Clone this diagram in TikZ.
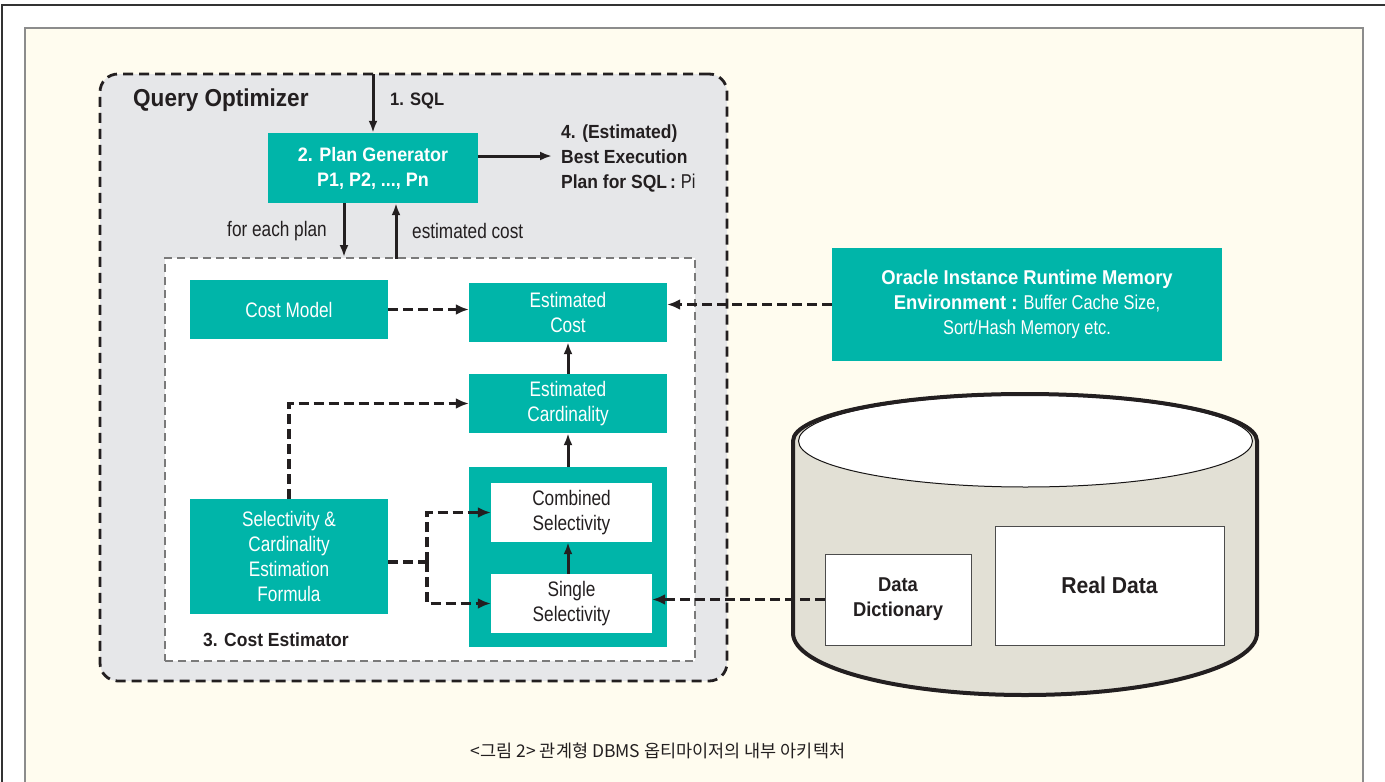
\documentclass[tikz,border=0pt]{standalone}
\usepackage{fontspec}
\usetikzlibrary{arrows.meta}
\setmainfont{Liberation Sans}
\newfontfamily\rslt{Liberation Sans}[FakeStretch=0.82]
\newfontfamily\rsbd{Liberation Sans}[FakeStretch=0.92]
\newfontfamily\rskr{Noto Sans CJK KR}
\definecolor{teal}{HTML}{00B5A9}
\definecolor{qgrey}{HTML}{E6E7E9}
\definecolor{cream}{HTML}{FFFCEF}
\definecolor{cyl}{HTML}{E2E0D5}
\definecolor{ink}{HTML}{231F20}
\definecolor{ceborder}{HTML}{7A7A7A}
\newcommand\rsLight[1][21]{\rslt\mdseries\fontsize{#1}{25}\selectfont}
\newcommand\rsBold[1][19]{\rsbd\bfseries\fontsize{#1}{25}\selectfont}
\tikzset{
  tealbox/.style={fill=teal, draw=none, text=white, align=center, inner sep=0pt, font=\rsLight},
  whitebox/.style={fill=white, draw=none, text=ink, align=center, inner sep=0pt, font=\rsLight},
  dbbox/.style={fill=white, draw=black!70, line width=1pt, text=ink, align=center, inner sep=0pt},
  arr/.style={draw=ink, line width=3pt, -{Latex[length=12pt,width=9pt]}},
  darr/.style={draw=ink, line width=3.5pt, dash pattern=on 10pt off 5pt, -{Latex[length=13pt,width=11pt]}},
  dline/.style={draw=ink, line width=3.5pt, dash pattern=on 10pt off 5pt},
  lbl/.style={text=ink, inner sep=0pt},
}
\begin{document}
\begin{tikzpicture}[x=1pt, y=-1pt]
\useasboundingbox (0,0) rectangle (1385,782);
% page frame
\fill[white] (0,0) rectangle (1385,782);
\fill[cream] (25,28) rectangle (1363,790);
\draw[black!45, line width=1.5pt] (25,790) -- (25,28) -- (1363,28) -- (1363,790);
\draw[black!80, line width=1.8pt] (2,782) -- (2,5) -- (1385,5);

% Query optimizer
\node[draw=ink, fill=qgrey, line width=2.8pt, dash pattern=on 10pt off 6pt, rounded corners=18pt,
      minimum width=627pt, minimum height=607pt, inner sep=0pt] (qo) at (413.5,377.5) {};
\node[lbl, anchor=west, font={\rsBold[24.5]}] (qot) at (133,100) {Query Optimizer};

% plan generator
\node[tealbox, minimum width=210pt, minimum height=70pt, font={\rsBold[19.5]}] (pg) at (373,168)
  {2. Plan Generator\\P1, P2, ..., Pn};
\coordinate (sqlin) at (373,74);
\draw[arr] (sqlin) -- (pg.north);
\node[lbl, anchor=west, font={\rsBold[18]}] (sql) at (390,101) {1. SQL};

\node[lbl, anchor=west, align=left, font={\rsBold[19]}] (best) at (561,158)
  {4. (Estimated)\\Best Execution\\Plan for SQL\,: {\rsLight[20]Pi}};
\draw[arr, shorten >=9pt] ([yshift=12pt]pg.east) -- ([yshift=2pt]best.west);

% cost estimator
\node[draw=ceborder, fill=white, line width=1.2pt, dash pattern=on 8pt off 5pt,
      minimum width=530pt, minimum height=403pt, inner sep=0pt] (ce) at (430,459.5) {};
\node[lbl, anchor=west, font={\rsBold[19]}] (cet) at (203,640) {3. Cost Estimator};

\coordinate (fe) at (344,257);
\coordinate (ec) at (396,259);
\draw[arr] (pg.south -| fe) -- (fe);
\draw[arr] (ec) -- (ec |- pg.south);
\node[lbl, anchor=east, font=\rsLight] (fet) at (327,231) {for each plan};
\node[lbl, anchor=west, font=\rsLight] (ect) at (412,231) {estimated cost};

\node[tealbox, minimum width=198pt, minimum height=59pt] (cm) at (289,309.5) {Cost Model};
\node[tealbox, minimum width=198pt, minimum height=59pt] (ecost) at (568,312.5) {Estimated\\Cost};
\node[tealbox, minimum width=198pt, minimum height=59pt] (ecard) at (568,403.5) {Estimated\\Cardinality};
\node[tealbox, minimum width=198pt, minimum height=115pt] (sf) at (289,556.5)
  {Selectivity \&\\Cardinality\\Estimation\\Formula};
\node[tealbox, minimum width=198pt, minimum height=180pt] (selbox) at (568,557) {};
\node[whitebox, minimum width=161pt, minimum height=59pt] (comb) at (571.5,512.5) {Combined\\Selectivity};
\node[whitebox, minimum width=161pt, minimum height=59pt] (sing) at (571.5,603.5) {Single\\Selectivity};

\draw[arr] (ecard.north) -- (ecost.south);
\draw[arr] (selbox.north) -- (ecard.south);
\draw[arr] (sing.north -| selbox.north) -- (comb.south -| selbox.north);

\draw[darr] (cm.east) -- (cm.east -| ecost.west);
\draw[darr] (sf.north) |- (ecard.west);
\coordinate (jn) at (427,562);
\draw[dline] (sf.east |- jn) -- (jn);
\draw[darr] (jn) |- (comb.west);
\draw[darr] (jn) |- (sing.west);

% oracle
\node[tealbox, minimum width=390pt, minimum height=113pt, font={\rsLight[20]}] (ora) at (1027,304.5)
  {{\rsBold[20]Oracle Instance Runtime Memory}\\{\rsBold[20]Environment :} Buffer Cache Size,\\Sort/Hash Memory etc.};
\draw[darr] (ora.west) -- (ora.west -| ecost.east);

% database cylinder
\fill[cyl] (793,441) -- (793,633)
  .. controls (793,667) and (897,695) .. (1025,695)
  .. controls (1153,695) and (1257,667) .. (1257,633)
  -- (1257,441)
  .. controls (1257,415) and (1153,394) .. (1025,394)
  .. controls (897,394) and (793,415) .. (793,441) -- cycle;
\draw[draw=black!30!ink, line width=1pt, fill=white] (1025.5,441) ellipse [x radius=227, y radius=46];
\draw[draw=ink, line width=4pt] (793,441) -- (793,633)
  .. controls (793,667) and (897,695) .. (1025,695)
  .. controls (1153,695) and (1257,667) .. (1257,633)
  -- (1257,441)
  .. controls (1257,415) and (1153,394) .. (1025,394)
  .. controls (897,394) and (793,415) .. (793,441) -- cycle;

\node[dbbox, minimum width=146pt, minimum height=91pt, font={\rsBold[20]}] (dd) at (898,599.5) {Data\\Dictionary};
\node[dbbox, minimum width=229pt, minimum height=119pt, font={\rsBold[23]}] (rd) at (1109.5,585.5) {Real Data};
\draw[darr] (dd.west) -- (dd.west -| sing.east);

% caption
\node[lbl, font={\rskr\fontsize{17.5}{20}\selectfont}] (cap) at (658,751) {<그림 2> 관계형 DBMS 옵티마이저의 내부 아키텍처};
\end{tikzpicture}
\end{document}
